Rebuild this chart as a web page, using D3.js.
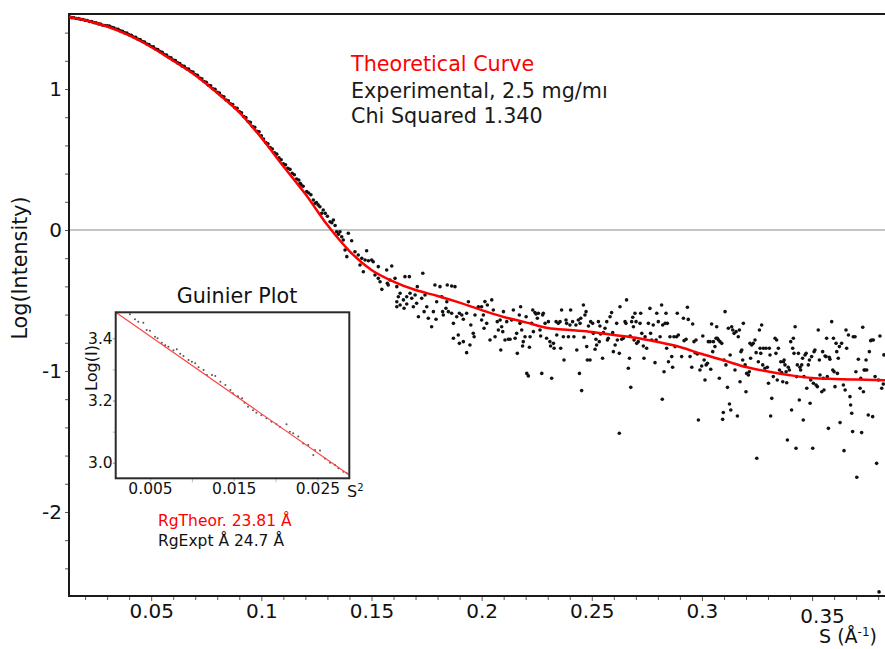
<!DOCTYPE html>
<html>
<head>
<meta charset="utf-8">
<script src="https://cdn.jsdelivr.net/npm/d3@7"></script>
<style>
  body { margin: 0; background: #fff; }
  text { font-family: "DejaVu Sans", sans-serif; }
</style>
</head>
<body>
<script>
// theoretical curve (S, log I)
var theoryS = [0.0127, 0.02, 0.03, 0.04, 0.05, 0.06, 0.07, 0.08, 0.09, 0.10, 0.11, 0.12, 0.13, 0.14, 0.15, 0.16, 0.17, 0.18, 0.19, 0.20,
  0.21, 0.22, 0.23, 0.24, 0.25, 0.26, 0.27, 0.28, 0.29, 0.30, 0.31, 0.32, 0.33, 0.34, 0.35, 0.36, 0.37, 0.3831]
var theoryLogI = [1.510, 1.488, 1.443, 1.380, 1.298, 1.200, 1.098, 0.972, 0.835, 0.655, 0.452, 0.255, 0.035, -0.149, -0.284, -0.366, -0.426, -0.468, -0.515, -0.568,
  -0.617, -0.655, -0.695, -0.710, -0.723, -0.745, -0.765, -0.795, -0.830, -0.880, -0.925, -0.972, -1.004, -1.030, -1.050, -1.057, -1.061, -1.065]

// experimental points [S, log I]
var experimental = [
  [0.0130,1.511],[0.0140,1.506],[0.0150,1.505],[0.0160,1.500],[0.0170,1.499],[0.0180,1.494],[0.0190,1.493],[0.0200,1.487],[0.0210,1.486],[0.0220,1.479],
  [0.0230,1.478],[0.0240,1.471],[0.0250,1.469],[0.0260,1.462],[0.0270,1.460],[0.0280,1.452],[0.0290,1.450],[0.0300,1.449],[0.0310,1.447],[0.0320,1.437],
  [0.0330,1.435],[0.0340,1.425],[0.0350,1.423],[0.0360,1.412],[0.0370,1.410],[0.0380,1.398],[0.0390,1.396],[0.0400,1.384],[0.0410,1.381],[0.0420,1.369],
  [0.0430,1.366],[0.0440,1.353],[0.0450,1.350],[0.0460,1.337],[0.0470,1.333],[0.0480,1.319],[0.0490,1.316],[0.0500,1.301],[0.0510,1.299],[0.0520,1.284],
  [0.0530,1.280],[0.0540,1.265],[0.0550,1.260],[0.0560,1.244],[0.0570,1.241],[0.0580,1.225],[0.0590,1.222],[0.0600,1.205],[0.0610,1.202],[0.0620,1.185],
  [0.0630,1.181],[0.0640,1.164],[0.0650,1.161],[0.0660,1.144],[0.0670,1.141],[0.0680,1.124],[0.0690,1.120],[0.0700,1.103],[0.0710,1.098],[0.0720,1.078],
  [0.0730,1.073],[0.0740,1.053],[0.0750,1.048],[0.0760,1.027],[0.0770,1.023],[0.0780,1.002],[0.0790,0.998],[0.0800,0.977],[0.0810,0.971],[0.0820,0.950],
  [0.0830,0.945],[0.0840,0.922],[0.0850,0.917],[0.0860,0.895],[0.0870,0.890],[0.0880,0.867],[0.0890,0.863],[0.0900,0.840],[0.0910,0.831],[0.0920,0.805],
  [0.0930,0.797],[0.0940,0.769],[0.0950,0.763],[0.0960,0.734],[0.0970,0.728],[0.0980,0.700],[0.0990,0.696],[0.1000,0.668],[0.1010,0.645],[0.1020,0.620],
  [0.1030,0.612],[0.1040,0.585],[0.1050,0.575],[0.1060,0.548],[0.1070,0.538],[0.1080,0.512],[0.1090,0.498],[0.1100,0.470],[0.1110,0.462],[0.1120,0.438],
  [0.1130,0.430],[0.1140,0.402],[0.1150,0.392],[0.1160,0.362],[0.1170,0.355],[0.1180,0.322],[0.1190,0.310],[0.1215,0.262],[0.1225,0.250],[0.1250,0.195],
  [0.1258,0.178],[0.1290,0.118],[0.1300,0.098],[0.1320,0.052],[0.1335,0.032],[0.1350,-0.030],[0.1365,-0.048],
  [0.1176,0.331],[0.1206,0.272],[0.1236,0.213],[0.1244,0.189],[0.1266,0.165],[0.1274,0.118],[0.1281,0.142],[0.1312,0.059],[0.1327,0.071],[0.1342,-0.012],
  [0.1357,-0.012],[0.1372,-0.071],[0.1395,-0.023],[0.1410,-0.076],[0.1380,-0.142],[0.1388,-0.189],[0.1425,-0.154],[0.1440,-0.177],[0.1456,-0.201],[0.1478,-0.147],
  [0.1471,-0.213],[0.1486,-0.218],[0.1501,-0.213],[0.1508,-0.225],[0.1448,-0.248],[0.1463,-0.296],[0.1531,-0.260],[0.1516,-0.319],[0.1531,-0.343],[0.1539,-0.367],
  [0.1547,-0.421],[0.1569,-0.284],[0.1592,-0.255],[0.1572,-0.378],[0.1584,-0.355],[0.1607,-0.343],[0.1576,-0.390],[0.1615,-0.402],[0.1630,-0.449],[0.1652,-0.331],
  [0.1672,-0.331],[0.1622,-0.473],[0.1615,-0.509],[0.1630,-0.532],[0.1645,-0.496],[0.1660,-0.473],[0.1675,-0.449],[0.1660,-0.525],[0.1683,-0.484],[0.1615,-0.544],
  [0.1648,-0.555],[0.1698,-0.461],[0.1708,-0.402],[0.1733,-0.307],[0.1705,-0.520],[0.1690,-0.544],[0.1728,-0.484],[0.1743,-0.461],[0.1751,-0.544],[0.1739,-0.579],
  [0.1713,-0.615],[0.1758,-0.626],[0.1773,-0.686],[0.1781,-0.579],[0.1788,-0.390],[0.1796,-0.509],[0.1811,-0.402],[0.1819,-0.473],[0.1842,-0.509],[0.1838,-0.555],
  [0.1823,-0.579],[0.1826,-0.603],[0.1849,-0.579],[0.1793,-0.633],[0.1844,-0.390],[0.1864,-0.397],[0.1879,-0.402],[0.1864,-0.591],[0.1872,-0.662],[0.1887,-0.615],
  [0.1899,-0.591],[0.1910,-0.603],[0.1917,-0.633],[0.1872,-0.768],[0.1894,-0.745],[0.1899,-0.804],[0.1917,-0.792],[0.1932,-0.870],[0.1932,-0.591],[0.1940,-0.509],
  [0.1951,-0.674],[0.1947,-0.816],[0.1962,-0.733],[0.1966,-0.757],[0.1970,-0.603],[0.1985,-0.544],
  [0.2000,-0.544],[0.2015,-0.508],[0.2026,-0.532],[0.2046,-0.496],[0.2008,-0.603],[0.2000,-0.638],[0.2011,-0.697],[0.2023,-0.662],[0.2038,-0.780],[0.2053,-0.567],
  [0.2061,-0.757],[0.2071,-0.650],[0.2076,-0.709],[0.2084,-0.638],[0.2087,-0.851],[0.2099,-0.579],[0.2091,-0.686],[0.2096,-0.721],[0.2106,-0.780],[0.2114,-0.650],
  [0.2121,-0.775],[0.2129,-0.775],[0.2136,-0.638],[0.2144,-0.567],[0.2152,-0.768],[0.2159,-0.733],[0.2162,-0.875],[0.2171,-0.603],[0.2174,-0.662],[0.2177,-0.544],
  [0.2182,-0.709],[0.2186,-0.823],[0.2189,-0.792],[0.2197,-0.757],[0.2202,-0.615],[0.2205,-1.017],[0.2212,-1.035],[0.2217,-0.832],[0.2220,-0.757],[0.2227,-0.662],
  [0.2232,-0.567],[0.2235,-0.721],[0.2242,-0.586],[0.2247,-0.596],[0.2253,-0.626],[0.2258,-0.591],[0.2265,-0.709],[0.2268,-0.752],[0.2273,-1.017],[0.2277,-0.603],
  [0.2280,-0.591],[0.2288,-0.662],[0.2295,-0.768],[0.2303,-0.650],[0.2310,-0.792],[0.2313,-0.823],[0.2318,-1.052],[0.2326,-0.804],[0.2329,-0.839],[0.2338,-0.650],
  [0.2341,-0.745],[0.2348,-0.662],[0.2356,-0.650],[0.2359,-0.839],[0.2363,-0.567],[0.2371,-0.757],[0.2374,-0.922],[0.2383,-0.638],[0.2386,-0.662],[0.2394,-0.757],
  [0.2401,-0.674],[0.2404,-0.567],[0.2413,-0.650],[0.2419,-0.757],[0.2428,-0.674],[0.2432,-0.851],[0.2439,-0.638],[0.2444,-1.017],[0.2447,-0.662],[0.2450,-0.626],
  [0.2454,-1.139],[0.2462,-0.532],[0.2465,-0.761],[0.2469,-0.603],[0.2474,-0.579],[0.2477,-0.827],[0.2480,-0.922],[0.2485,-0.681],[0.2492,-0.922],[0.2495,-0.650],
  [0.2504,-0.662],[0.2507,-0.733],[0.2515,-0.846],[0.2519,-0.775],[0.2522,-0.816],[0.2530,-0.650],[0.2534,-0.792],[0.2537,-0.681],[0.2540,-0.738],[0.2549,-0.910],
  [0.2553,-0.728],[0.2560,-0.697],[0.2568,-0.650],[0.2571,-0.780],[0.2575,-0.768],[0.2583,-0.615],[0.2590,-0.586],[0.2595,-0.728],[0.2598,-0.863],[0.2606,-0.816],
  [0.2613,-0.662],[0.2616,-0.780],[0.2625,-0.875],[0.2628,-0.544],[0.2636,-0.775],[0.2643,-0.768],[0.2651,-0.650],[0.2655,-0.662],[0.2658,-0.496],[0.2666,-0.981],
  [0.2671,-0.910],[0.2674,-0.752],[0.2677,-1.116],[0.2681,-0.650],[0.2686,-0.619],[0.2689,-0.686],[0.2692,-0.780],[0.2696,-0.591],[0.2701,-0.650],[0.2704,-0.804],
  [0.2711,-0.792],[0.2719,-0.662],[0.2722,-0.591],[0.2727,-0.733],[0.2734,-0.823],[0.2737,-0.910],[0.2742,-0.757],[0.2749,-0.839],[0.2757,-0.662],[0.2764,-0.556],
  [0.2767,-0.733],[0.2772,-0.780],[0.2779,-0.674],[0.2787,-0.941],[0.2792,-0.780],[0.2795,-0.591],[0.2802,-0.650],[0.2810,-0.757],[0.2817,-0.532],[0.2822,-0.674],
  [0.2828,-1.005],[0.2833,-0.662],[0.2837,-0.591],[0.2840,-0.839],[0.2843,-0.662],[0.2848,-0.934],[0.2855,-0.757],[0.2863,-0.898],[0.2867,-0.974],[0.2873,-0.757],
  [0.2878,-0.827],[0.2885,-0.757],[0.2888,-0.591],[0.2893,-0.745],[0.2625,-1.442],[0.2820,-1.200],
  [0.2934,-0.548],[0.2916,-0.626],[0.2938,-0.634],[0.2958,-0.667],[0.2919,-0.785],[0.2928,-0.775],[0.2908,-0.898],[0.2946,-0.898],[0.2964,-0.792],[0.2973,-0.780],
  [0.2969,-0.870],[0.2979,-0.879],[0.2954,-0.974],[0.2984,-1.348],[0.2991,-0.993],[0.2999,-0.965],[0.3004,-0.752],[0.3010,-0.922],[0.3019,-0.957],[0.3014,-1.064],
  [0.3025,-0.946],[0.3029,-0.792],[0.3037,-0.792],[0.3040,-0.988],[0.3044,-0.667],[0.3049,-0.863],[0.3052,-0.792],[0.3059,-0.827],[0.3064,-0.768],[0.3067,-0.686],
  [0.3070,-0.768],[0.3075,-0.780],[0.3079,-1.052],[0.3082,-0.792],[0.3090,-0.804],[0.3094,-1.343],[0.3097,-1.295],[0.3100,-0.922],[0.3105,-0.579],[0.3109,-0.957],
  [0.3116,-1.116],[0.3120,-0.697],[0.3125,-1.234],[0.3128,-0.887],[0.3131,-1.277],[0.3135,-0.686],[0.3140,-0.709],[0.3146,-0.733],[0.3150,-0.993],[0.3155,-0.721],
  [0.3161,-1.319],[0.3165,-0.757],[0.3170,-0.709],[0.3173,-1.076],[0.3177,-0.863],[0.3181,-0.851],[0.3185,-0.922],[0.3188,-0.662],[0.3196,-0.957],[0.3200,-1.147],
  [0.3203,-1.017],[0.3211,-1.028],[0.3215,-1.005],[0.3218,-0.804],[0.3221,-0.910],[0.3226,-0.816],[0.3233,-0.804],[0.3241,-0.780],[0.3246,-0.870],[0.3249,-1.619],
  [0.3256,-0.934],[0.3261,-0.709],[0.3264,-0.839],[0.3267,-0.875],[0.3271,-0.674],[0.3276,-0.957],[0.3279,-0.839],[0.3286,-0.981],[0.3291,-0.839],[0.3297,-0.974],
  [0.3302,-1.087],[0.3306,-0.839],[0.3309,-0.887],[0.3312,-1.319],[0.3317,-1.194],[0.3324,-1.040],[0.3332,-0.768],[0.3336,-0.875],[0.3339,-0.780],[0.3342,-1.064],
  [0.3347,-0.839],[0.3352,-0.993],[0.3358,-0.934],[0.3362,-1.012],[0.3367,-1.076],[0.3370,-0.934],[0.3373,-0.922],[0.3377,-0.957],[0.3382,-1.005],[0.3385,-1.083],
  [0.3388,-1.489],[0.3392,-0.974],[0.3397,-0.993],[0.3403,-0.792],[0.3407,-1.277],[0.3412,-0.839],[0.3415,-0.768],[0.3418,-0.875],[0.3423,-0.686],[0.3427,-1.548],
  [0.3430,-1.040],[0.3433,-0.957],[0.3438,-0.875],[0.3442,-1.206],[0.3445,-0.974],[0.3448,-0.993],[0.3453,-0.957],[0.3457,-0.910],[0.3460,-1.348],[0.3463,-1.040],
  [0.3468,-0.887],[0.3473,-0.875],[0.3476,-1.123],[0.3483,-0.957],[0.3488,-0.922],[0.3491,-1.229],[0.3494,-1.064],[0.3498,-0.898],[0.3503,-1.548],[0.3506,-1.087],
  [0.3509,-0.863],[0.3513,-0.851],[0.3518,-1.099],[0.3524,-1.111],[0.3528,-0.709],[0.3533,-0.922],[0.3536,-1.028],[0.3544,-1.147],[0.3548,-0.863],[0.3551,-1.052],
  [0.3554,-1.135],[0.3559,-0.894],[0.3563,-0.898],[0.3566,-0.768],[0.3569,-1.040],[0.3574,-1.407],[0.3578,-0.903],[0.3581,-0.917],[0.3589,-0.650],[0.3594,-0.993],
  [0.3597,-0.768],[0.3600,-1.005],[0.3604,-1.111],[0.3609,-0.804],[0.3612,-0.863],[0.3615,-1.017],[0.3619,-0.910],[0.3624,-0.827],[0.3627,-1.366],[0.3634,-0.804],
  [0.3642,-1.099],[0.3645,-1.565],[0.3650,-1.135],[0.3654,-0.709],[0.3657,-0.839],[0.3665,-0.745],[0.3672,-1.182],[0.3675,-1.241],[0.3680,-1.300],[0.3684,-1.430],
  [0.3687,-0.757],[0.3695,-0.757],[0.3699,-1.005],[0.3703,-1.754],[0.3710,-0.917],[0.3718,-1.123],[0.3721,-1.052],[0.3725,-1.437],[0.3730,-0.690],[0.3733,-1.147],
  [0.3736,-0.993],[0.3740,-0.993],[0.3745,-0.922],[0.3748,-0.993],[0.3755,-1.312],[0.3760,-0.863],[0.3766,-0.785],[0.3771,-0.780],[0.3775,-1.324],[0.3778,-0.780],
  [0.3786,-1.040],[0.3793,-1.655],[0.3801,-1.064],[0.3808,-0.752],[0.3816,-1.123],[0.3823,-1.092],[0.3826,-0.886],[0.3804,-2.567]
]

var xMajor = [0.05, 0.1, 0.15, 0.2, 0.25, 0.3, 0.35]
var xMajorLabels = ["0.05", "0.1", "0.15", "0.2", "0.25", "0.3", "0.35"]
var xMinor = [0.02, 0.03, 0.04, 0.06, 0.07, 0.08, 0.09, 0.11, 0.12, 0.13, 0.14, 0.16, 0.17, 0.18, 0.19,
  0.21, 0.22, 0.23, 0.24, 0.26, 0.27, 0.28, 0.29, 0.31, 0.32, 0.33, 0.34, 0.36, 0.37, 0.38]
var yMajor = [-2, -1, 0, 1]
var yMajorLabels = ["-2", "-1", "0", "1"]
var yMinor = [-2.4, -2.2, -1.8, -1.6, -1.4, -1.2, -0.8, -0.6, -0.4, -0.2, 0.2, 0.4, 0.6, 0.8, 1.2, 1.4]

// Guinier inset: [S^2, log I]
var guinierPoints = [
  [0.0026,3.477],[0.0032,3.461],[0.0036,3.453],[0.0042,3.450],[0.0046,3.427],[0.0050,3.424],[0.0056,3.405],[0.0059,3.400],[0.0064,3.386],[0.0068,3.378],
  [0.0072,3.373],[0.0078,3.362],[0.0082,3.365],[0.0086,3.350],[0.0090,3.343],[0.0096,3.330],[0.0100,3.325],[0.0104,3.320],[0.0108,3.307],[0.0114,3.298],
  [0.0118,3.282],[0.0124,3.282],[0.0128,3.279],[0.0134,3.260],[0.0140,3.250],[0.0146,3.234],[0.0149,3.223],[0.0155,3.214],[0.0160,3.207],[0.0163,3.193],
  [0.0167,3.180],[0.0173,3.169],[0.0177,3.161],[0.0183,3.153],[0.0189,3.143],[0.0195,3.132],[0.0201,3.124],[0.0205,3.116],[0.0213,3.124],[0.0217,3.100],
  [0.0221,3.095],[0.0227,3.084],[0.0233,3.062],[0.0239,3.057],[0.0245,3.025],[0.0247,3.041],[0.0253,3.039],[0.0259,3.014],[0.0265,3.000],[0.0271,2.993],
  [0.0275,2.982],[0.0281,2.971],[0.0285,2.966]
]
var guinierFitS2 = [0.0009, 0.0288]
var guinierFitLogI = [3.4836, 2.9605]
var gxMajor = [0.005, 0.015, 0.025]
var gxMajorLabels = ["0.005", "0.015", "0.025"]
var gxMinor = [0.01, 0.02]
var gyMajor = [3.0, 3.2, 3.4]
var gyMajorLabels = ["3.0", "3.2", "3.4"]
var gyMinor = [3.1, 3.3]

var width = 885, height = 649
var plot = {left: 69, right: 885, top: 14, bottom: 596}

var svg = d3.select("body").append("svg")
  .attr("width", width)
  .attr("height", height)

var x = d3.scaleLinear().domain([0.0127, 0.3831]).range([plot.left, plot.right])
var y = d3.scaleLinear().domain([-2.596, 1.532]).range([plot.bottom, plot.top])

// zero line
svg.append("line")
  .attr("x1", plot.left).attr("x2", plot.right)
  .attr("y1", y(0)).attr("y2", y(0))
  .attr("stroke", "#8a8a8a").attr("stroke-width", 1.2)

// ticks
function styleAxis(g, size) {
  g.select(".domain").remove()
  g.selectAll("line").attr("stroke", "#555")
  g.selectAll("text")
    .attr("fill", "#111")
    .style("font-family", "'DejaVu Sans', sans-serif")
    .style("font-size", size + "px")
}

svg.append("g")
  .attr("transform", "translate(0," + plot.bottom + ")")
  .call(d3.axisBottom(x).tickValues(xMinor).tickSize(4).tickSizeOuter(0).tickFormat(""))
  .call(styleAxis, 20)

var xAxis = svg.append("g")
  .attr("transform", "translate(0," + plot.bottom + ")")
  .call(d3.axisBottom(x).tickValues(xMajor).tickSize(5).tickPadding(3).tickSizeOuter(0)
    .tickFormat(function(d, i) { return xMajorLabels[i] }))
  .call(styleAxis, 20)

// last label sits a little off its tick in the original
xAxis.selectAll(".tick").filter(function(d, i) { return i === xMajor.length - 1 })
  .select("text").attr("dx", 10).attr("y", 13)

svg.append("g")
  .attr("transform", "translate(" + plot.left + ",0)")
  .call(d3.axisLeft(y).tickValues(yMinor).tickSize(4).tickSizeOuter(0).tickFormat(""))
  .call(styleAxis, 20)

svg.append("g")
  .attr("transform", "translate(" + plot.left + ",0)")
  .call(d3.axisLeft(y).tickValues(yMajor).tickSize(4).tickPadding(3).tickSizeOuter(0)
    .tickFormat(function(d, i) { return yMajorLabels[i] }))
  .call(styleAxis, 20)

// frame lines
svg.append("path")
  .attr("d", "M" + plot.right + "," + plot.top + "H" + plot.left + "V" + plot.bottom + "H" + plot.right)
  .attr("fill", "none")
  .attr("stroke", "#1a1a1a")
  .attr("stroke-width", 2)

// data
svg.append("g")
  .selectAll("circle")
  .data(experimental)
  .enter().append("circle")
  .attr("cx", function(d) { return x(d[0]) })
  .attr("cy", function(d) { return y(d[1]) })
  .attr("r", 1.8)
  .attr("fill", "#111")

var line = d3.line()
  .x(function(d, i) { return x(theoryS[i]) })
  .y(function(d) { return y(d) })
  .curve(d3.curveMonotoneX)

svg.append("path")
  .datum(theoryLogI)
  .attr("d", line)
  .attr("fill", "none")
  .attr("stroke", "#ff0000")
  .attr("stroke-width", 2.5)

// legend text
var legend = svg.append("g").style("font-size", "20.7px")
legend.append("text").attr("x", 351).attr("y", 71).attr("fill", "#ff0000").text("Theoretical Curve")
legend.append("text").attr("x", 351).attr("y", 98).attr("fill", "#1a1a1a").text("Experimental, 2.5 mg/mı")
legend.append("text").attr("x", 351).attr("y", 123).attr("fill", "#1a1a1a").text("Chi Squared 1.340")

// axis titles
svg.append("text")
  .attr("transform", "translate(20,268) rotate(-90)")
  .attr("text-anchor", "middle")
  .attr("dy", "0.35em")
  .style("font-size", "20.7px")
  .attr("fill", "#111")
  .text("Log(Intensity)")

var sLabel = svg.append("text")
  .attr("x", 877).attr("y", 643)
  .attr("text-anchor", "end")
  .style("font-size", "19px")
  .attr("fill", "#111")
sLabel.append("tspan").text("S (Å")
sLabel.append("tspan").attr("dy", -7).style("font-size", "12px").text("-1")
sLabel.append("tspan").attr("dy", 7).text(")")

// Guinier inset
var gx = d3.scaleLinear().domain([0.0009, 0.0288]).range([115.7, 349.3])
var gy = d3.scaleLinear().domain([2.95, 3.4836]).range([478.3, 312.3])
var inset = svg.append("g")

inset.append("rect")
  .attr("x", gx.range()[0]).attr("y", gy.range()[1])
  .attr("width", gx.range()[1] - gx.range()[0])
  .attr("height", gy.range()[0] - gy.range()[1])
  .attr("fill", "#fff")

inset.append("g")
  .attr("transform", "translate(0," + gy.range()[0] + ")")
  .call(d3.axisBottom(gx).tickValues(gxMinor).tickSize(4).tickSizeOuter(0).tickFormat(""))
  .call(styleAxis, 15.5)
  .selectAll("line").attr("stroke", "#bbb")

inset.append("g")
  .attr("transform", "translate(0," + gy.range()[0] + ")")
  .call(d3.axisBottom(gx).tickValues(gxMajor).tickSize(3).tickPadding(2).tickSizeOuter(0)
    .tickFormat(function(d, i) { return gxMajorLabels[i] }))
  .call(styleAxis, 15.5)
  .selectAll("line").attr("stroke", "#bbb")

inset.append("g")
  .attr("transform", "translate(" + gx.range()[0] + ",0)")
  .call(d3.axisLeft(gy).tickValues(gyMinor).tickSize(3).tickSizeOuter(0).tickFormat(""))
  .call(styleAxis, 15.5)
  .selectAll("line").attr("stroke", "#bbb")

inset.append("g")
  .attr("transform", "translate(" + gx.range()[0] + ",0)")
  .call(d3.axisLeft(gy).tickValues(gyMajor).tickSize(3).tickPadding(0).tickSizeOuter(0)
    .tickFormat(function(d, i) { return gyMajorLabels[i] }))
  .call(styleAxis, 15.5)
  .selectAll("line").attr("stroke", "#999")

inset.append("g")
  .selectAll("circle")
  .data(guinierPoints)
  .enter().append("circle")
  .attr("cx", function(d) { return gx(d[0]) })
  .attr("cy", function(d) { return gy(d[1]) })
  .attr("r", 1)
  .attr("fill", "#555")

var gLine = d3.line()
  .x(function(d, i) { return gx(guinierFitS2[i]) })
  .y(function(d) { return gy(d) })

inset.append("path")
  .datum(guinierFitLogI)
  .attr("d", gLine)
  .attr("stroke", "#ff4040")
  .attr("stroke-width", 1.1)
  .attr("fill", "none")

inset.append("rect")
  .attr("x", gx.range()[0]).attr("y", gy.range()[1])
  .attr("width", gx.range()[1] - gx.range()[0])
  .attr("height", gy.range()[0] - gy.range()[1])
  .attr("fill", "none")
  .attr("stroke", "#2a2a2a")
  .attr("stroke-width", 2)

inset.append("text")
  .attr("x", 237).attr("y", 303)
  .attr("text-anchor", "middle")
  .style("font-size", "20.7px")
  .attr("fill", "#111")
  .text("Guinier Plot")

inset.append("text")
  .attr("transform", "translate(91,368) rotate(-90)")
  .attr("text-anchor", "middle")
  .attr("dy", "0.35em")
  .style("font-size", "16px")
  .attr("fill", "#111")
  .text("Log(I)")

var s2 = inset.append("text")
  .attr("x", 347).attr("y", 497)
  .style("font-size", "16px")
  .attr("fill", "#111")
s2.append("tspan").text("S")
s2.append("tspan").attr("dy", -6).style("font-size", "10px").text("2")

inset.append("text")
  .attr("x", 158).attr("y", 526)
  .style("font-size", "15.5px")
  .attr("fill", "#ff0000")
  .text("RgTheor. 23.81 Å")

inset.append("text")
  .attr("x", 158).attr("y", 546)
  .style("font-size", "15.5px")
  .attr("fill", "#111")
  .text("RgExpt Å 24.7 Å")
</script>
</body>
</html>
